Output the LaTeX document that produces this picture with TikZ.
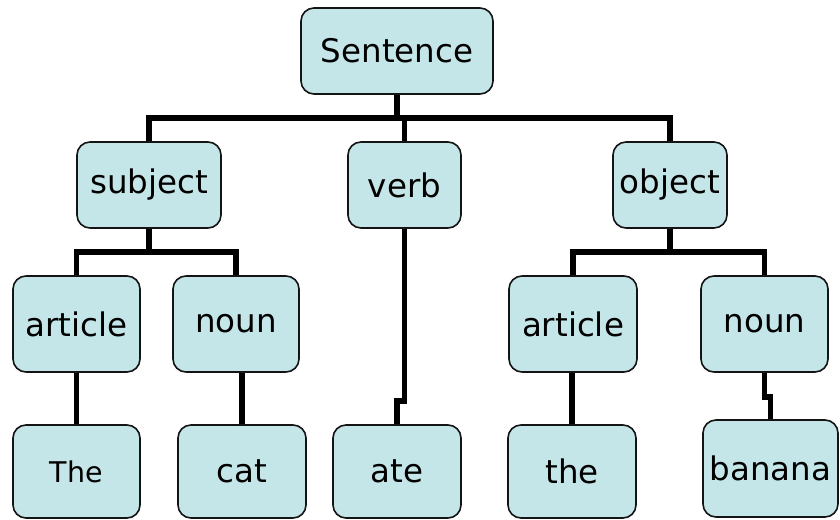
\documentclass[tikz,border=0pt]{standalone}
\usepackage{fontspec}
\setmainfont{DejaVu Sans}
\definecolor{boxfill}{RGB}{197,230,232}
\definecolor{boxline}{RGB}{20,20,20}
\begin{document}
\begin{tikzpicture}[x=1pt,y=-1pt,
  box/.style={draw=boxline, line width=1.6pt, fill=boxfill, rounded corners=13pt,
    inner sep=0pt, font=\fontsize{32.5}{32.5}\selectfont, text=black},
  conn/.style={line width=5.5pt, black, line join=miter}]
\useasboundingbox (0,0) rectangle (840,519);
% top
\node[box, minimum width=192pt, minimum height=86pt] (S) at (397,51) {Sentence};
% second row
\node[box, minimum width=144pt, minimum height=86pt] (subj) at (149,185) {subject};
\node[box, minimum width=113pt, minimum height=86pt] (verb) at (404.5,185) {verb};
\node[box, minimum width=114pt, minimum height=86pt] (obj) at (670,185) {object};
% third row
\node[box, minimum width=127pt, minimum height=96pt] (artL) at (76.5,324) {article};
\node[box, minimum width=126pt, minimum height=96pt] (nounL) at (236,324) {noun};
\node[box, minimum width=128pt, minimum height=96pt] (artR) at (573,324) {article};
\node[box, minimum width=127pt, minimum height=96pt] (nounR) at (764.5,324) {noun};
% fourth row
\node[box, minimum width=127pt, minimum height=93pt, font=\fontsize{28.5}{28.5}\selectfont] (the1) at (76.5,471.5) {The};
\node[box, minimum width=128pt, minimum height=93pt] (cat) at (242,471.5) {cat};
\node[box, minimum width=128pt, minimum height=93pt] (ate) at (397,471.5) {ate};
\node[box, minimum width=128pt, minimum height=93pt] (the2) at (572,471.5) {the};
\node[box, minimum width=135pt, minimum height=97pt] (banana) at (770.5,468.5) {banana};
% hubs
\coordinate (hub1) at (397,118);
\coordinate (hub2) at (149,252);
\coordinate (hub3) at (670,252);
% connectors
\draw[conn] (S.south) -- (hub1);
\draw[conn] (subj.north) |- (hub1);
\draw[conn] (obj.north) |- (hub1);
\draw[conn] (verb.north) -- (verb.north |- hub1);
\draw[conn] (subj.south) -- (hub2);
\draw[conn] (artL.north) |- (hub2);
\draw[conn] (nounL.north) |- (hub2);
\draw[conn] (obj.south) -- (hub3);
\draw[conn] (artR.north) |- (hub3);
\draw[conn] (nounR.north) |- (hub3);
\draw[conn] (artL.south) -- (the1.north);
\draw[conn] (cat.north) -- (cat.north |- nounL.south);
\draw[conn] (verb.south) -- ++(0,172) -| (ate.north);
\draw[conn] (the2.north) -- (the2.north |- artR.south);
\draw[conn] (nounR.south) -- ++(0,24) -| (banana.north);
\end{tikzpicture}
\end{document}
